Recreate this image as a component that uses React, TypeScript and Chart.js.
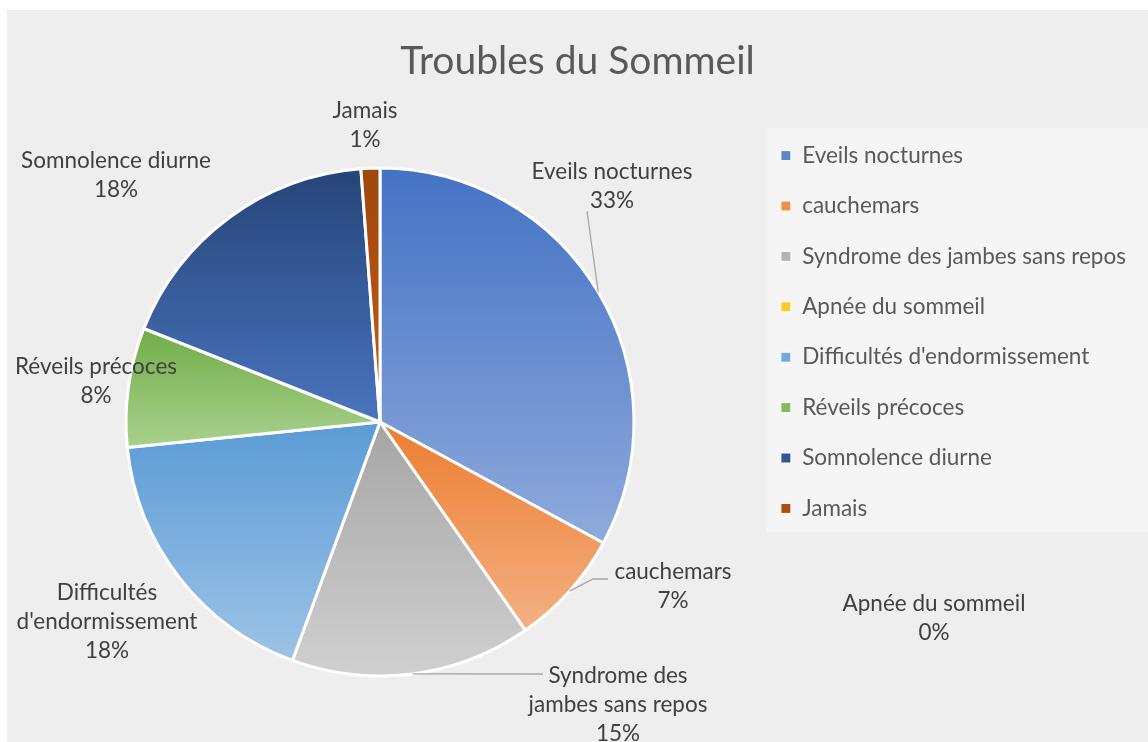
import React, { useEffect, useRef } from "react";
import { Chart, registerables } from "chart.js";

Chart.register(...registerables);

// ---------- data ----------
const chartTitle = "Troubles du Sommeil";
const categories = [
  "Eveils nocturnes",
  "cauchemars",
  "Syndrome des jambes sans repos",
  "Apnée du sommeil",
  "Difficultés d'endormissement",
  "Réveils précoces",
  "Somnolence diurne",
  "Jamais",
];
const values = [32.9, 7.4, 15.3, 0, 17.8, 7.6, 17.8, 1.2];

// ---------- styles ----------
const colorsTop = ["#4472C4", "#ED7D31", "#A5A5A5", "#FFC000", "#5B9BD5", "#70AD47", "#264478", "#9E480E"];
const colorsBottom = ["#8FAADC", "#F4B183", "#D0D0D0", "#FFD966", "#9DC3E6", "#A9D18E", "#4A74BE", "#C55A11"];

const W = 1148;
const H = 742;
const PAD = { left: 7, top: 10, right: 0, bottom: 88 };
const RADIUS = 254;
const LEGEND_WIDTH = 395;
const ROW_STEP = 50.4;
const LINE_GAP = 29;
const FONT = "Lato, 'Open Sans', sans-serif";

// label placement relative to the pie centre (x centre of text block, middle of first line)
const LABEL_LAYOUT: { dx: number; dy: number; wrap?: number; leader?: number[][] }[] = [
  { dx: 232, dy: -250, leader: [[207, -211]] },
  { dx: 293, dy: 150, leader: [[213, 157], [228, 157]] },
  { dx: 238, dy: 254, wrap: 185, leader: [[163, 252]] },
  { dx: 554, dy: 182 },
  { dx: -273, dy: 171, wrap: 190 },
  { dx: -284, dy: -55 },
  { dx: -264, dy: -261 },
  { dx: -15, dy: -311 },
];

function fitFont(text: string, target: number): number {
  const c = document.createElement("canvas").getContext("2d")!;
  c.font = `normal 100px ${FONT}`;
  const w = c.measureText(text).width || 1;
  return Math.round((100 * target) / w * 2) / 2;
}

function hexToRgb(h: string) {
  const n = parseInt(h.slice(1), 16);
  return [(n >> 16) & 255, (n >> 8) & 255, n & 255];
}
function mix(a: string, b: string, t: number) {
  const A = hexToRgb(a), B = hexToRgb(b);
  const c = A.map((v, i) => Math.round(v + (B[i] - v) * t));
  return `rgb(${c[0]},${c[1]},${c[2]})`;
}

function sectorYRange(cy: number, r: number, a0: number, a1: number) {
  const ys = [cy, cy + r * Math.sin(a0), cy + r * Math.sin(a1)];
  for (let k = -2; k <= 2; k++) {
    const t = -Math.PI / 2 + 2 * Math.PI * k;
    if (t >= a0 && t <= a1) ys.push(cy - r);
    const b = Math.PI / 2 + 2 * Math.PI * k;
    if (b >= a0 && b <= a1) ys.push(cy + r);
  }
  return [Math.min(...ys), Math.max(...ys)];
}

function wrapText(ctx: CanvasRenderingContext2D, text: string, maxW?: number): string[] {
  if (!maxW) return [text];
  const words = text.split(" ");
  const lines: string[] = [];
  let cur = "";
  for (const w of words) {
    const test = cur ? cur + " " + w : w;
    if (cur && ctx.measureText(test).width > maxW) {
      lines.push(cur);
      cur = w;
    } else cur = test;
  }
  if (cur) lines.push(cur);
  return lines;
}

export default function App() {
  const ref = useRef<HTMLCanvasElement>(null);

  useEffect(() => {
    document.body.style.margin = "0";
    const canvas = ref.current!;
    const labelSize = fitFont("Syndrome des jambes sans repos", 322);
    const titleSize = fitFont(chartTitle, 356);
    const total = values.reduce((a, b) => a + b, 0);

    const bgPlugin = {
      id: "bgPlugin",
      beforeDraw(chart: any) {
        const ctx = chart.ctx;
        ctx.save();
        ctx.fillStyle = "#ffffff";
        ctx.fillRect(0, 0, W, H);
        ctx.fillStyle = "#eeeeee";
        ctx.fillRect(PAD.left, PAD.top, W - PAD.left, H - PAD.top);
        const lg = chart.legend;
        if (lg && lg.legendHitBoxes && lg.legendHitBoxes.length) {
          const hb = lg.legendHitBoxes;
          const top = hb[0].top - 16.6;
          const last = hb[hb.length - 1];
          const bottom = last.top + last.height + 12.6;
          ctx.fillStyle = "#f5f5f5";
          ctx.fillRect(lg.left + 14, top, W - lg.left - 14, bottom - top);
        }
        ctx.restore();
      },
    };

    const legendWidthPlugin = {
      id: "legendWidth",
      beforeLayout(chart: any) {
        const lg = chart.legend;
        if (lg && !lg.__patched) {
          const f = lg.fit.bind(lg);
          lg.fit = () => {
            f();
            lg.width = LEGEND_WIDTH;
          };
          lg.__patched = true;
        }
      },
    };

    const dataLabelPlugin = {
      id: "dataLabels",
      afterDatasetsDraw(chart: any) {
        const ctx = chart.ctx;
        const meta = chart.getDatasetMeta(0);
        ctx.save();
        ctx.font = `normal ${labelSize}px ${FONT}`;
        ctx.textAlign = "center";
        ctx.textBaseline = "middle";
        meta.data.forEach((arc: any, i: number) => {
          const p = arc.getProps(["x", "y", "startAngle", "endAngle", "outerRadius"], true);
          const L = LABEL_LAYOUT[i];
          if (!L) return;
          const mid = (p.startAngle + p.endAngle) / 2;
          if (L.leader) {
            ctx.beginPath();
            ctx.strokeStyle = "#a6a6a6";
            ctx.lineWidth = 1.3;
            ctx.moveTo(p.x + Math.cos(mid) * p.outerRadius, p.y + Math.sin(mid) * p.outerRadius);
            L.leader.forEach((pt) => ctx.lineTo(p.x + pt[0], p.y + pt[1]));
            ctx.stroke();
          }
          const lines = wrapText(ctx, categories[i], L.wrap);
          lines.push(`${Math.round((values[i] / total) * 100)}%`);
          ctx.fillStyle = "#404040";
          lines.forEach((ln, k) => ctx.fillText(ln, p.x + L.dx, p.y + L.dy + k * LINE_GAP));
        });
        ctx.restore();
      },
    };

    const chart = new Chart(canvas, {
      type: "pie",
      data: {
        labels: categories,
        datasets: [
          {
            data: values,
            radius: RADIUS,
            clip: false,
            borderColor: "#ffffff",
            borderWidth: 3,
            backgroundColor: (c: any) => {
              const i = c.dataIndex;
              const ch = c.chart;
              const ca = ch.chartArea;
              if (!ca || i === undefined) return colorsTop[i] || "#ccc";
              const before = values.slice(0, i).reduce((a, b) => a + b, 0);
              const a0 = -Math.PI / 2 + (2 * Math.PI * before) / total;
              const a1 = a0 + (2 * Math.PI * values[i]) / total;
              const cy = (ca.top + ca.bottom) / 2;
              const [y0, y1] = sectorYRange(cy, RADIUS, a0, a1);
              if (y1 - y0 < 1) return colorsTop[i];
              const g = ch.ctx.createLinearGradient(0, y0, 0, y1);
              g.addColorStop(0, colorsTop[i]);
              g.addColorStop(1, colorsBottom[i]);
              return g;
            },
          } as any,
        ],
      },
      options: {
        responsive: false,
        animation: false,
        devicePixelRatio: 1,
        layout: { padding: PAD },
        plugins: {
          title: {
            display: true,
            text: chartTitle,
            color: "#595959",
            font: { family: FONT, size: titleSize, weight: "normal", lineHeight: "46px" } as any,
            padding: { top: 28, bottom: 106 },
          },
          legend: {
            position: "right",
            align: "center",
            labels: {
              font: { family: FONT, size: labelSize },
              color: "#595959",
              boxWidth: 10,
              boxHeight: 10,
              padding: ROW_STEP - Math.max(labelSize, 10),
              generateLabels: () =>
                categories.map((t, i) => ({
                  text: t,
                  fillStyle: mix(colorsTop[i], colorsBottom[i], 0.35),
                  strokeStyle: "#ffffff",
                  lineWidth: 1,
                  hidden: false,
                  index: i,
                  fontColor: "#595959",
                })),
            },
          },
          tooltip: { enabled: false },
        },
      } as any,
      plugins: [bgPlugin, legendWidthPlugin, dataLabelPlugin],
    });

    return () => chart.destroy();
  }, []);

  return (
    <canvas
      ref={ref}
      width={W}
      height={H}
      style={{ display: "block", width: W, height: H }}
    />
  );
}
